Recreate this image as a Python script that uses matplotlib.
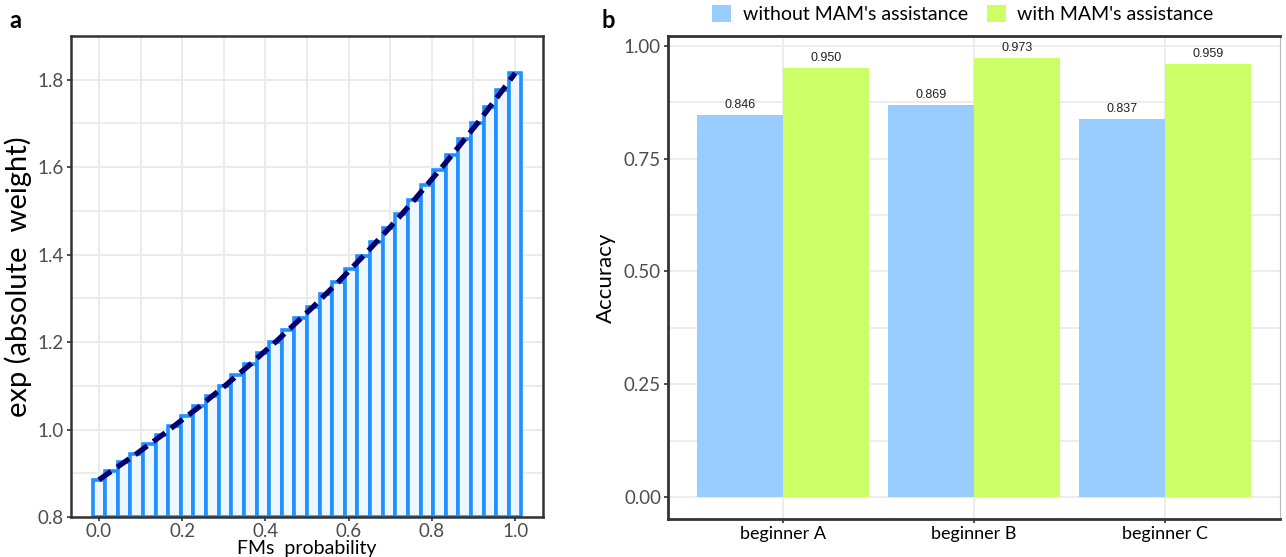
import matplotlib
matplotlib.use('agg')
import matplotlib.pyplot as plt
from matplotlib.patches import Patch
from matplotlib.ticker import MultipleLocator
import numpy as np

plt.rcParams['font.family'] = ['Lato', 'DejaVu Sans']

# panel a: exp(absolute weight) per FMs probability bin
fm_prob = [i / 33 for i in range(34)]
exp_weight = [0.885, 0.905, 0.925, 0.945, 0.966, 0.987, 1.009, 1.031, 1.053,
              1.077, 1.100, 1.125, 1.149, 1.175, 1.200, 1.227, 1.254, 1.281,
              1.310, 1.338, 1.368, 1.398, 1.429, 1.460, 1.492, 1.525, 1.559,
              1.593, 1.628, 1.664, 1.700, 1.738, 1.776, 1.815]

# panel b: accuracy of the beginners
beginners = ['beginner A', 'beginner B', 'beginner C']
acc_without = [0.846, 0.869, 0.837]
acc_with = [0.950, 0.973, 0.959]
groups = ["without MAM's assistance", "with MAM's assistance"]

grid_c = '#ebebeb'
tick_c = '#4d4d4d'
blue = '#99ccff'
green = '#ccff66'

fig = plt.figure(figsize=(12.86, 5.57), dpi=100)

# ---- panel a
ax1 = fig.add_axes([71 / 1286, 40 / 557, 472 / 1286, 481 / 557])
ax1.bar(fm_prob, [v - 0.8 for v in exp_weight], width=1 / 33, bottom=0.8,
        color='#eef6ff', edgecolor='#1e90ff', linewidth=2.6, zorder=2)
ax1.plot(fm_prob, exp_weight, color='#00006e', lw=3.8, dashes=(2.8, 1.4),
         zorder=3)
ax1.set_xlim(-0.067, 1.067)
ax1.set_ylim(0.8, 1.9)
ax1.xaxis.set_major_locator(MultipleLocator(0.2))
ax1.xaxis.set_minor_locator(MultipleLocator(0.1))
ax1.yaxis.set_major_locator(MultipleLocator(0.2))
ax1.yaxis.set_minor_locator(MultipleLocator(0.1))
ax1.grid(True, which='both', color=grid_c, lw=1.4, zorder=0)
ax1.set_axisbelow(True)
ax1.tick_params(which='minor', length=0)
ax1.tick_params(which='major', length=3, width=1.2, color='#333333',
                labelcolor=tick_c, labelsize=13.5, pad=2)
ax1.tick_params(axis='x', pad=1)
ax1.set_yticks([0.8, 1.0, 1.2, 1.4, 1.6, 1.8])
ax1.set_yticklabels(['0.8', '1.0', '1.2', '1.4', '1.6', '1.8'])
for s in ax1.spines.values():
    s.set_color('#333333')
    s.set_linewidth(1.8)
ax1.set_xlabel('FMs  probability', fontsize=14, labelpad=0)
ax1.set_ylabel('exp (absolute  weight)', fontsize=21, labelpad=4)
fig.text(15 / 1286, 1 - 20 / 557, 'a', fontsize=17, fontweight='bold',
         va='center', ha='center')

# ---- panel b
ax2 = fig.add_axes([668 / 1286, 38 / 557, 612 / 1286, 483 / 557])
x = np.arange(1, len(beginners) + 1)
w = 0.45
b1 = ax2.bar(x - w / 2, acc_without, width=w, color=blue, zorder=2)
b2 = ax2.bar(x + w / 2, acc_with, width=w, color=green, zorder=2)
for bars, vals in ((b1, acc_without), (b2, acc_with)):
    for r, v in zip(bars, vals):
        ax2.annotate(f'{v:.3f}', (r.get_x() + r.get_width() / 2, v),
                     xytext=(0, 3), textcoords='offset points',
                     ha='center', va='bottom', fontsize=9,
                     color='#222222', family='Liberation Sans')
ax2.set_xlim(0.4, 3.6)
ax2.set_ylim(-0.0487, 1.0217)
ax2.set_xticks(x)
ax2.set_xticklabels(beginners)
ax2.set_yticks([0, 0.25, 0.5, 0.75, 1.0])
ax2.set_yticklabels(['0.00', '0.25', '0.50', '0.75', '1.00'])
ax2.yaxis.set_minor_locator(MultipleLocator(0.125))
ax2.grid(True, axis='y', which='both', color=grid_c, lw=1.3, zorder=0)
ax2.grid(True, axis='x', which='major', color=grid_c, lw=1.3, zorder=0)
ax2.set_axisbelow(True)
ax2.tick_params(which='minor', length=0)
ax2.tick_params(axis='y', which='major', length=3, width=1.2,
                color='#333333', labelcolor=tick_c, labelsize=13.5, pad=2)
ax2.tick_params(axis='x', which='major', length=3, width=1.2,
                color='#333333', labelcolor='black', labelsize=13, pad=2)
for k in ('left', 'top', 'bottom'):
    ax2.spines[k].set_color('#333333')
    ax2.spines[k].set_linewidth(2.0)
ax2.spines['right'].set_color('#bbbbbb')
ax2.spines['right'].set_linewidth(0.8)
ax2.set_ylabel('Accuracy', fontsize=16, labelpad=6)
fig.text(608 / 1286, 1 - 20 / 557, 'b', fontsize=17, fontweight='bold',
         va='center', ha='center')

handles = [Patch(facecolor=blue), Patch(facecolor=green)]
fig.legend(handles, groups, loc='center', ncol=2, frameon=False,
           bbox_to_anchor=(963 / 1286, 1 - 14 / 557), fontsize=14,
           handlelength=0.95, handleheight=0.95, handletextpad=0.6,
           columnspacing=1.0)

fig.savefig('out.png', dpi=100)
